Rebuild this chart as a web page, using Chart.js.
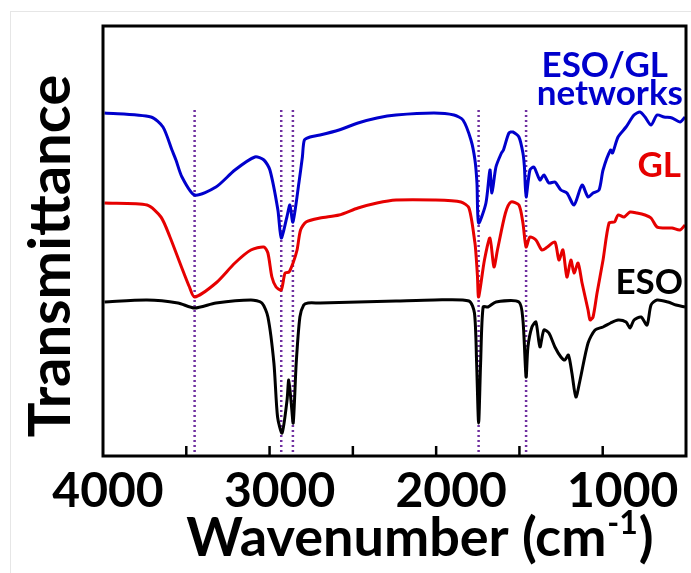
<!DOCTYPE html>
<html>
<head>
<meta charset="utf-8">
<script src="https://cdn.jsdelivr.net/npm/chart.js@4.4.1/dist/chart.umd.min.js"></script>
<style>
  html, body { margin: 0; padding: 0; background: #fff; }
  #wrap { position: relative; width: 691px; height: 573px; }
  #frame { position: absolute; left: 10px; top: 11px; right: 0; bottom: 0; border-top: 1px solid #e6e6e6; border-left: 1px solid #e6e6e6; }
  canvas { position: absolute; left: 0; top: 0; }
</style>
</head>
<body>
<div id="wrap">
  <div id="frame"></div>
  <canvas id="ftir" width="691" height="573"></canvas>
</div>
<script>
// wavenumbers (cm-1) and transmittance (arbitrary, offset)
const networksWn = [3991, 3712, 3640, 3586, 3562, 3526, 3450, 3322, 3208, 3088, 3034, 2998, 2950, 2930, 2896, 2878, 2860, 2824, 2803, 2791, 2757, 2697, 2583, 2469, 2355, 2241, 2013, 1893, 1839, 1791, 1767, 1755, 1745, 1701, 1677, 1665, 1641, 1608, 1596, 1563, 1539, 1503, 1479, 1470, 1460, 1437, 1413, 1377, 1353, 1323, 1287, 1251, 1215, 1172, 1124, 1088, 1058, 1022, 998, 953, 941, 908, 860, 812, 776, 746, 710, 674, 632, 584, 536, 506];
const networksT = [343, 339, 329, 306, 296, 279, 261, 269, 286, 299, 296, 286, 246, 218, 239, 251, 234, 273, 299, 316, 319, 321, 326, 333, 338, 341, 343, 341, 336, 316, 296, 273, 233, 253, 286, 263, 289, 303, 306, 323, 324, 319, 303, 289, 259, 286, 289, 276, 281, 273, 274, 266, 263, 251, 271, 259, 263, 266, 286, 306, 303, 319, 329, 341, 344, 339, 331, 341, 339, 338, 334, 339];

const glWn = [3991, 3736, 3652, 3598, 3538, 3481, 3450, 3322, 3208, 3112, 3034, 3010, 2986, 2961, 2930, 2907, 2883, 2859, 2835, 2814, 2781, 2697, 2583, 2469, 2355, 2241, 2010, 1851, 1803, 1767, 1760, 1752, 1745, 1710, 1677, 1653, 1632, 1584, 1551, 1503, 1479, 1460, 1437, 1401, 1365, 1332, 1287, 1263, 1239, 1215, 1191, 1172, 1148, 1124, 1088, 1076, 1058, 1034, 998, 962, 929, 908, 872, 836, 794, 746, 710, 674, 632, 584, 536, 506];
const glT = [253, 251, 239, 219, 193, 169, 159, 173, 193, 206, 209, 203, 179, 169, 166, 183, 184, 193, 206, 226, 234, 238, 241, 248, 253, 256, 256, 254, 248, 213, 200, 180, 159, 196, 218, 189, 206, 243, 254, 251, 233, 209, 219, 216, 206, 209, 214, 196, 206, 179, 196, 183, 193, 173, 146, 136, 139, 163, 196, 233, 234, 241, 239, 244, 243, 241, 238, 229, 228, 228, 226, 231];

const esoWn = [3991, 3736, 3550, 3450, 3322, 3112, 3046, 3010, 2974, 2952, 2925, 2895, 2885, 2870, 2858, 2840, 2818, 2795, 2769, 2697, 2469, 2241, 2010, 1803, 1770, 1757, 1745, 1733, 1718, 1689, 1641, 1503, 1479, 1460, 1449, 1425, 1401, 1377, 1353, 1323, 1287, 1251, 1227, 1206, 1185, 1161, 1136, 1088, 1046, 998, 953, 908, 860, 836, 812, 770, 734, 710, 674, 608, 560, 506];
const esoT = [154, 156, 153, 148, 153, 156, 153, 139, 93, 39, 23, 56, 76, 53, 33, 93, 139, 151, 153, 153, 154, 155, 156, 155, 143, 93, 33, 93, 149, 149, 154, 154, 136, 79, 109, 129, 134, 109, 126, 123, 109, 99, 96, 101, 83, 59, 76, 113, 126, 129, 133, 136, 134, 128, 136, 139, 131, 151, 156, 154, 151, 149];

// marked bands (dotted guide lines)
const peakLines = [3450, 2930, 2860, 1745, 1460];
const peakTop = 346;

// labelled x ticks
const xLabels = [4000, 3000, 2000, 1000];

const seriesNames = ["ESO/GL networks", "GL", "ESO"];
const seriesColors = ["#0000cc", "#e60000", "#000000"];

const pairs = (xs, ys) => xs.map((x, i) => ({ x: x, y: ys[i] }));

const datasets = [
  { label: seriesNames[0], data: pairs(networksWn, networksT), borderColor: seriesColors[0] },
  { label: seriesNames[1], data: pairs(glWn, glT), borderColor: seriesColors[1] },
  { label: seriesNames[2], data: pairs(esoWn, esoT), borderColor: seriesColors[2] },
].map(d => Object.assign(d, { borderWidth: 3, pointRadius: 0, tension: 0.25, fill: false }));

peakLines.forEach(p => {
  datasets.push({
    label: "band " + p,
    data: [{ x: p, y: peakTop }, { x: p, y: 0 }],
    borderColor: "#7030a0",
    borderWidth: 2.5,
    borderDash: [2, 3],
    pointRadius: 0,
  });
});

const boldFont = "Lato";

// frame, inward ticks, tick labels, titles and series labels
const decorations = {
  id: "decorations",
  afterDraw(chart) {
    const ctx = chart.ctx;
    const area = chart.chartArea;
    const xs = chart.scales.x;
    ctx.save();
    ctx.strokeStyle = "#000";
    ctx.lineWidth = 3;
    ctx.strokeRect(area.left, area.top, area.right - area.left, area.bottom - area.top);
    ctx.lineWidth = 2.5;
    xs.ticks.forEach(t => {
      const px = xs.getPixelForValue(t.value);
      if (px <= area.left + 2 || px >= area.right - 2) return;
      ctx.beginPath();
      ctx.moveTo(px, area.bottom);
      ctx.lineTo(px, area.bottom - 10);
      ctx.stroke();
    });

    // tick labels (the original's labels sit a little right of their ticks)
    ctx.fillStyle = "#000";
    ctx.textAlign = "center";
    ctx.textBaseline = "alphabetic";
    ctx.font = "bold 48px " + boldFont;
    xLabels.forEach((v, i) => {
      ctx.fillText(String(v), xs.getPixelForValue(v) + 5 + i * 5, 507);
    });

    // x title with superscript
    ctx.textAlign = "left";
    const main = "Wavenumber (cm";
    const sup = "-1";
    const tail = ")";
    ctx.font = "bold 54px " + boldFont;
    const w1 = ctx.measureText(main).width;
    const w3 = ctx.measureText(tail).width;
    ctx.font = "bold 32px " + boldFont;
    const w2 = ctx.measureText(sup).width;
    const total = w1 + w2 + w3;
    const x0 = 419 - total / 2;
    const base = 556;
    ctx.font = "bold 54px " + boldFont;
    ctx.fillText(main, x0, base);
    ctx.font = "bold 32px " + boldFont;
    ctx.fillText(sup, x0 + w1 + 1, base - 22);
    ctx.font = "bold 54px " + boldFont;
    ctx.fillText(tail, x0 + w1 + w2 + 2, base);

    // y title
    ctx.save();
    ctx.translate(70, 256);
    ctx.rotate(-Math.PI / 2);
    ctx.textAlign = "center";
    ctx.font = "bold 58px " + boldFont;
    ctx.fillText("Transmittance", 0, 0);
    ctx.restore();

    // series labels
    ctx.textAlign = "right";
    ctx.font = "bold 35px " + boldFont;
    ctx.fillStyle = seriesColors[0];
    ctx.fillText("ESO/GL", 668, 77);
    ctx.fillText("networks", 683, 105);
    ctx.fillStyle = seriesColors[1];
    ctx.fillText(seriesNames[1], 681, 177);
    ctx.fillStyle = seriesColors[2];
    ctx.fillText(seriesNames[2], 683, 294);
    ctx.restore();
  }
};

new Chart(document.getElementById("ftir").getContext("2d"), {
  type: "line",
  data: { datasets: datasets },
  options: {
    responsive: false,
    animation: false,
    events: [],
    layout: { padding: { left: 103, right: 5, top: 26, bottom: 0 } },
    plugins: { legend: { display: false }, tooltip: { enabled: false } },
    scales: {
      x: {
        type: "linear",
        reverse: true,
        min: 500,
        max: 4000,
        border: { display: false },
        grid: { display: false, drawTicks: false },
        afterFit: s => { s.height = 117; },
        ticks: { stepSize: 500, autoSkip: false, display: false },
      },
      y: {
        display: false,
        min: 0,
        max: 430,
      },
    },
  },
  plugins: [decorations],
});
</script>
</body>
</html>
